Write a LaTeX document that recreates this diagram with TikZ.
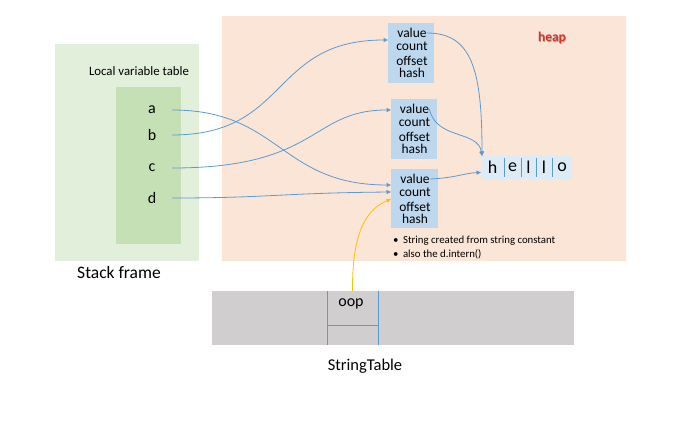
\documentclass[tikz,border=0pt]{standalone}
\usepackage{fontspec}
\setmainfont{Carlito}
\usetikzlibrary{arrows.meta}
\definecolor{sfgreen}{HTML}{E2EFDA}
\definecolor{lvgreen}{HTML}{C5E0B4}
\definecolor{heapbg}{HTML}{FBE5D6}
\definecolor{objblue}{HTML}{BDD7EE}
\definecolor{hellobg}{HTML}{DDEBF7}
\definecolor{arrblue}{HTML}{5B9BD5}
\definecolor{stgray}{HTML}{D0CECE}
\definecolor{ylw}{HTML}{FFC000}
\definecolor{heapred}{HTML}{E2311D}
\begin{document}
\begin{tikzpicture}[x=1pt,y=-1pt,
  area/.style={draw=none,inner sep=0pt,outer sep=0pt,anchor=north west},
  field/.style={inner sep=0pt,font=\fontsize{13.5}{14}\selectfont},
  var/.style={inner sep=0pt,minimum width=40pt,font=\fontsize{16}{17}\selectfont},
  cell/.style={inner sep=0pt,outer sep=0pt,minimum height=23pt,anchor=north west,font=\fontsize{18}{19}\selectfont},
  ptr/.style={draw=arrblue,line width=0.8pt,-{Triangle[length=4.5pt,width=4pt]}},
  divider/.style={draw=arrblue,line width=0.8pt},
  title/.style={inner sep=0pt,font=\fontsize{17.5}{19}\selectfont},
  note/.style={inner sep=0pt,anchor=west,font=\fontsize{10.8}{12}\selectfont}
]
\useasboundingbox (0,0) rectangle (699,422);
% regions
\node[area,fill=sfgreen,minimum width=144pt,minimum height=217pt] (stack) at (55,44) {};
\node[area,fill=lvgreen,minimum width=65pt,minimum height=157pt] (lvt) at (116,87) {};
\node[area,fill=heapbg,minimum width=404pt,minimum height=245pt] (heap) at (222,16) {};
\node[inner sep=0pt,font=\fontsize{12.8}{14}\selectfont] (lvtlabel) at (139,71) {Local variable table};
\node[title] (stacklabel) at (119,272) {Stack frame};
% heap label with shadow
\node[inner sep=0pt,text=black!35,font=\bfseries\fontsize{13.5}{14}\selectfont] (heapshadow) at (552.7,38.7) {heap};
\node[inner sep=0pt,text=heapred,font=\bfseries\fontsize{13.5}{14}\selectfont] (heaplabel) at (552,38) {heap};
% variables
\node[var] (a) at (152,110) {a};
\node[var] (b) at (152,135) {b};
\node[var] (c) at (152,168) {c};
\node[var] (d) at (152,198) {d};
% string objects
\node[area,fill=objblue,minimum width=46pt,minimum height=60pt] (obj1) at (388,23) {};
\node[area,fill=objblue,minimum width=46pt,minimum height=60pt] (obj2) at (391,99) {};
\node[area,fill=objblue,minimum width=47pt,minimum height=59pt] (obj3) at (391,169) {};
\foreach \o/\x/\y in {1/412/23,2/414.5/99,3/415/169}{
  \node[field] (v\o) at (\x,\y+10) {value};
  \node[field] (c\o) at (\x,\y+23.5) {count};
  \node[field] (o\o) at (\x,\y+37.5) {offset};
  \node[field] (h\o) at (\x,\y+49.5) {hash};
}
% hello char array
\node[cell,fill=hellobg,minimum width=23pt] (ch1) at (481,156) {h};
\node[cell,fill=hellobg,minimum width=17pt] (ch2) at (ch1.north east) {e};
\node[cell,fill=hellobg,minimum width=15pt] (ch3) at (ch2.north east) {l};
\node[cell,fill=hellobg,minimum width=16pt] (ch4) at (ch3.north east) {l};
\node[cell,fill=hellobg,minimum width=20pt] (ch5) at (ch4.north east) {o};
\foreach \i in {1,2,3,4}{
  \draw[divider] ([yshift=-2pt]ch\i.north east) -- ([yshift=2pt]ch\i.south east);
}
% notes
\node[note] (n1) at (393,241) {\textbullet\hspace{4.5pt}String created from string constant};
\node[note] (n2) at (393,254) {\textbullet\hspace{4.5pt}also the d.intern()};
% string table
\node[area,fill=stgray,minimum width=362pt,minimum height=54pt] (st) at (212,291) {};
\node[area,minimum width=51pt,minimum height=34pt] (oopcell) at (327,291) {};
\node[inner sep=0pt,font=\fontsize{16}{17}\selectfont] (oop) at (351,304) {oop};
\draw[divider] (oopcell.north west) -- (oopcell.west |- st.south);
\draw[divider] (oopcell.north east) -- (oopcell.east |- st.south);
\draw[divider] (oopcell.south west) -- (oopcell.south east);
\node[inner sep=0pt,font=\fontsize{16.5}{18}\selectfont] (stlabel) at (365,366) {StringTable};
% references from variables
\coordinate (t1) at ([yshift=-17pt]obj1.north west);
\coordinate (t2) at ([yshift=-11pt]obj2.north west);
\coordinate (t3a) at ([yshift=-16pt]obj3.north west);
\coordinate (t3d) at ([yshift=-23pt]obj3.north west);
\coordinate (t3y) at ([yshift=-30pt]obj3.north west);
\draw[ptr] (a.east) .. controls (280,110) and (280,185) .. (t3a);
\draw[ptr] (b.east) .. controls (290,135) and (270,40) .. (t1);
\draw[ptr] (c.east) .. controls (320,168) and (310,110) .. (t2);
\draw[ptr] (d.east) .. controls (270,198) and (280,193) .. (t3d);
% string table entry
\draw[draw=ylw,line width=0.8pt,-{Triangle[length=4.5pt,width=4pt]}] (oopcell.north) .. controls (352,235) and (365,210) .. (t3y);
% value -> char array
\coordinate (hv) at ([xshift=1pt]ch1.north west);
\coordinate (hw) at ([yshift=-5pt]ch1.west);
\draw[ptr] (v1.east) .. controls (472,33) and (482,70) .. (hv);
\draw[ptr] (v2.east) .. controls (436,140) and (478,130) .. (hv);
\draw[ptr] (v3.east) .. controls (455,178) and (465,173) .. (hw);
\end{tikzpicture}
\end{document}
